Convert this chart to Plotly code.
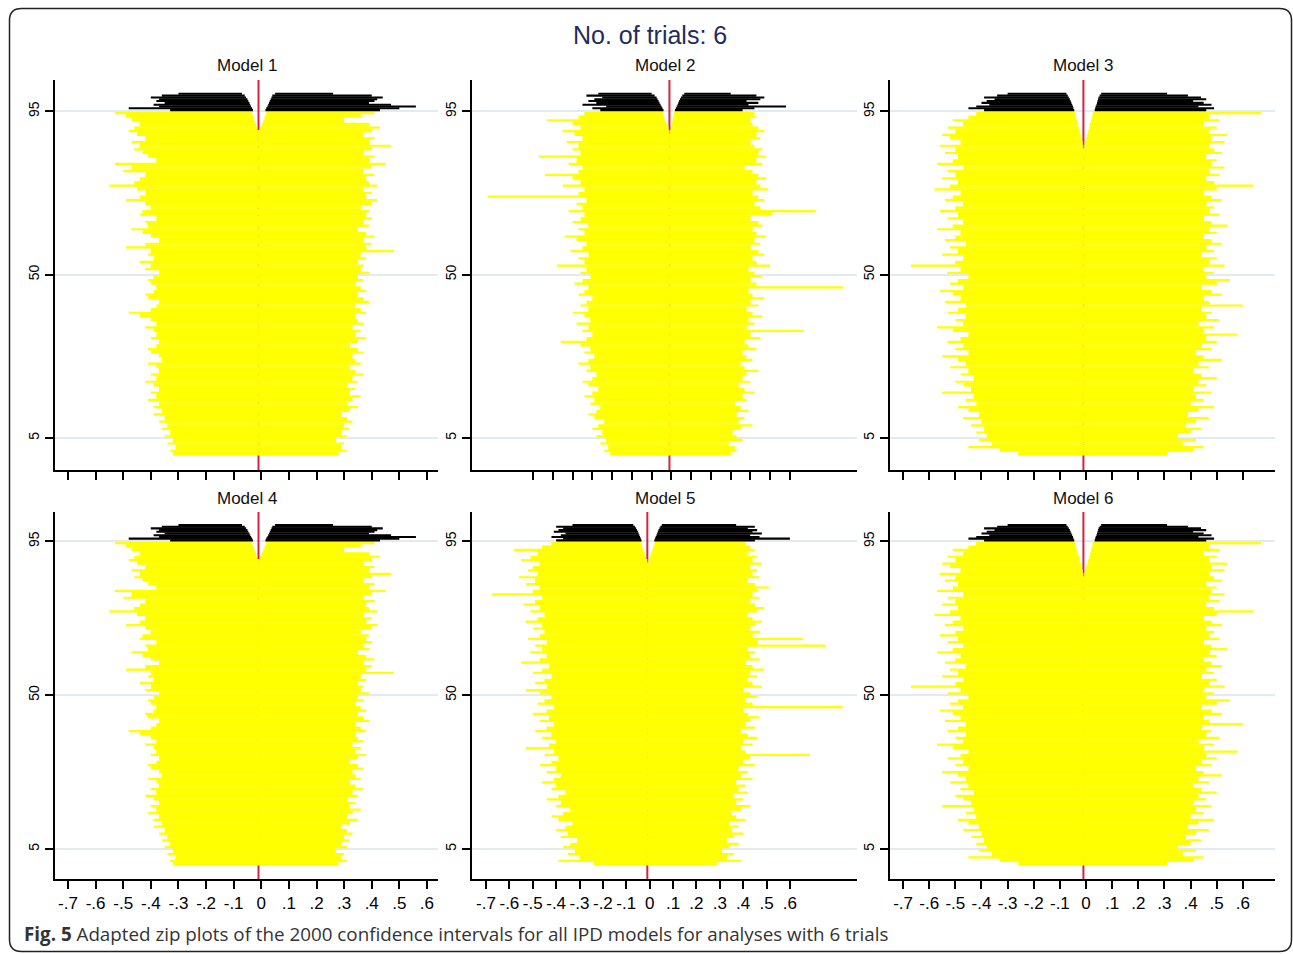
import plotly.graph_objects as go

W, H = 1293, 954
TRUE_EFFECT = -0.01

X_TICKS = [-0.7, -0.6, -0.5, -0.4, -0.3, -0.2, -0.1, 0.0, 0.1, 0.2, 0.3, 0.4, 0.5, 0.6]
X_TICK_TEXT = ["-.7", "-.6", "-.5", "-.4", "-.3", "-.2", "-.1", "0", ".1", ".2", ".3", ".4", ".5", ".6"]
Y_TICKS = [5, 50, 95]
Y_TICK_TEXT = ["5", "50", "95"]

# ---- covering intervals (yellow), one row per centile band 0..94 (bottom -> top)
model1_lo = [-0.32, -0.33, -0.31, -0.34, -0.32, -0.35, -0.33, -0.36, -0.34, -0.37,
             -0.35, -0.39, -0.36, -0.39, -0.37, -0.41, -0.38, -0.40, -0.37, -0.39,
             -0.42, -0.38, -0.40, -0.37, -0.38, -0.41, -0.36, -0.37, -0.40, -0.41,
             -0.38, -0.37, -0.40, -0.38, -0.39, -0.42, -0.38, -0.40, -0.44, -0.48,
             -0.40, -0.38, -0.37, -0.41, -0.42, -0.39, -0.38, -0.40, -0.41, -0.39,
             -0.37, -0.42, -0.40, -0.44, -0.39, -0.41, -0.40, -0.49, -0.42, -0.37,
             -0.40, -0.43, -0.47, -0.41, -0.42, -0.38, -0.44, -0.43, -0.40, -0.42,
             -0.49, -0.44, -0.42, -0.45, -0.55, -0.46, -0.44, -0.42, -0.50, -0.47,
             -0.53, -0.38, -0.41, -0.43, -0.46, -0.44, -0.47, -0.42, -0.45, -0.48,
             -0.46, -0.44, -0.47, -0.49, -0.53]
model1_hi = [0.28, 0.31, 0.29, 0.30, 0.27, 0.31, 0.29, 0.32, 0.30, 0.33,
             0.31, 0.29, 0.32, 0.35, 0.31, 0.33, 0.36, 0.32, 0.34, 0.31,
             0.35, 0.33, 0.37, 0.34, 0.32, 0.36, 0.34, 0.33, 0.37, 0.35,
             0.32, 0.35, 0.38, 0.34, 0.36, 0.33, 0.37, 0.35, 0.34, 0.38,
             0.36, 0.34, 0.39, 0.37, 0.35, 0.38, 0.36, 0.34, 0.37, 0.35,
             0.39, 0.36, 0.37, 0.35, 0.38, 0.36, 0.48, 0.38, 0.40, 0.37,
             0.41, 0.38, 0.35, 0.39, 0.37, 0.40, 0.38, 0.39, 0.36, 0.40,
             0.42, 0.38, 0.40, 0.37, 0.42, 0.39, 0.38, 0.41, 0.37, 0.40,
             0.45, 0.39, 0.41, 0.37, 0.40, 0.47, 0.39, 0.41, 0.37, 0.40,
             0.43, 0.39, 0.30, 0.36, 0.41]
model1_notch_l = [-0.010, -0.015, -0.019, -0.024, -0.028, -0.033]   # rows 89..94
model1_notch_r = [-0.010, -0.004, 0.001, 0.007, 0.012, 0.018]
model1_notch_start = 89

model2_lo = [-0.31, -0.34, -0.32, -0.36, -0.33, -0.38, -0.35, -0.40, -0.37, -0.34,
             -0.39, -0.42, -0.38, -0.36, -0.41, -0.39, -0.44, -0.40, -0.37, -0.42,
             -0.45, -0.40, -0.38, -0.43, -0.41, -0.47, -0.42, -0.39, -0.44, -0.41,
             -0.46, -0.56, -0.43, -0.40, -0.45, -0.42, -0.48, -0.41, -0.44, -0.50,
             -0.42, -0.46, -0.43, -0.40, -0.47, -0.44, -0.42, -0.49, -0.45, -0.41,
             -0.46, -0.43, -0.58, -0.44, -0.47, -0.42, -0.51, -0.45, -0.43, -0.48,
             -0.54, -0.44, -0.47, -0.42, -0.50, -0.46, -0.44, -0.52, -0.45, -0.48,
             -0.43, -0.93, -0.47, -0.44, -0.55, -0.46, -0.50, -0.64, -0.47, -0.45,
             -0.52, -0.48, -0.67, -0.46, -0.50, -0.47, -0.53, -0.45, -0.49, -0.55,
             -0.46, -0.50, -0.63, -0.47, -0.44]
model2_hi = [0.30, 0.33, 0.32, 0.29, 0.36, 0.33, 0.31, 0.35, 0.41, 0.34,
             0.37, 0.33, 0.39, 0.35, 0.32, 0.38, 0.36, 0.42, 0.37, 0.34,
             0.40, 0.36, 0.38, 0.44, 0.37, 0.35, 0.41, 0.38, 0.36, 0.43,
             0.39, 0.37, 0.45, 0.40, 0.67, 0.38, 0.42, 0.39, 0.46, 0.41,
             0.38, 0.44, 0.40, 0.47, 0.41, 0.39, 0.87, 0.43, 0.40, 0.46,
             0.42, 0.39, 0.50, 0.43, 0.41, 0.47, 0.44, 0.40, 0.45, 0.42,
             0.48, 0.43, 0.41, 0.46, 0.44, 0.40, 0.51, 0.73, 0.45, 0.42,
             0.47, 0.44, 0.41, 0.49, 0.45, 0.43, 0.48, 0.44, 0.41, 0.37,
             0.46, 0.43, 0.48, 0.44, 0.46, 0.42, 0.40, 0.45, 0.43, 0.47,
             0.44, 0.41, 0.40, 0.43, 0.42]
model2_notch_l = [-0.009, -0.015, -0.022, -0.029, -0.036, -0.043]
model2_notch_r = [-0.006, -0.002, 0.002, 0.005, 0.009, 0.013]
model2_notch_start = 89

model3_lo = [-0.26, -0.33, -0.45, -0.36, -0.41, -0.38, -0.42, -0.39, -0.44, -0.40,
             -0.47, -0.41, -0.45, -0.49, -0.42, -0.46, -0.43, -0.55, -0.44, -0.47,
             -0.50, -0.43, -0.48, -0.45, -0.52, -0.46, -0.49, -0.55, -0.45, -0.50,
             -0.47, -0.53, -0.48, -0.45, -0.51, -0.57, -0.47, -0.50, -0.46, -0.53,
             -0.49, -0.46, -0.54, -0.48, -0.51, -0.56, -0.47, -0.52, -0.49, -0.45,
             -0.53, -0.48, -0.67, -0.50, -0.47, -0.55, -0.49, -0.52, -0.46, -0.54,
             -0.50, -0.48, -0.57, -0.51, -0.47, -0.53, -0.49, -0.56, -0.50, -0.47,
             -0.54, -0.51, -0.48, -0.58, -0.52, -0.49, -0.55, -0.50, -0.53, -0.47,
             -0.57, -0.51, -0.49, -0.54, -0.50, -0.56, -0.48, -0.52, -0.55, -0.50,
             -0.53, -0.47, -0.51, -0.45, -0.42]
model3_hi = [0.31, 0.41, 0.45, 0.37, 0.42, 0.35, 0.40, 0.44, 0.38, 0.42,
             0.47, 0.39, 0.43, 0.49, 0.40, 0.45, 0.42, 0.48, 0.41, 0.46,
             0.43, 0.50, 0.44, 0.41, 0.47, 0.43, 0.52, 0.45, 0.42, 0.48,
             0.44, 0.50, 0.46, 0.58, 0.45, 0.49, 0.43, 0.51, 0.46, 0.48,
             0.44, 0.60, 0.47, 0.45, 0.52, 0.48, 0.44, 0.50, 0.55, 0.46,
             0.49, 0.45, 0.53, 0.47, 0.50, 0.44, 0.49, 0.46, 0.52, 0.48,
             0.45, 0.50, 0.47, 0.54, 0.48, 0.45, 0.51, 0.47, 0.49, 0.46,
             0.52, 0.48, 0.45, 0.50, 0.64, 0.49, 0.46, 0.51, 0.47, 0.53,
             0.48, 0.50, 0.46, 0.52, 0.49, 0.47, 0.53, 0.48, 0.54, 0.47,
             0.50, 0.45, 0.51, 0.47, 0.67]
model3_notch_l = [-0.010, -0.013, -0.017, -0.020, -0.024, -0.027, -0.031, -0.034, -0.038, -0.041]  # rows 85..94
model3_notch_r = [-0.006, -0.002, 0.001, 0.005, 0.008, 0.012, 0.015, 0.019, 0.022, 0.026]
model3_notch_start = 85

model5_lo = [-0.24, -0.39, -0.30, -0.35, -0.32, -0.37, -0.34, -0.31, -0.38, -0.35,
             -0.40, -0.36, -0.33, -0.39, -0.42, -0.37, -0.34, -0.40, -0.38, -0.44,
             -0.39, -0.36, -0.42, -0.40, -0.46, -0.41, -0.38, -0.44, -0.40, -0.47,
             -0.42, -0.39, -0.45, -0.41, -0.53, -0.43, -0.40, -0.46, -0.42, -0.49,
             -0.44, -0.41, -0.47, -0.43, -0.50, -0.44, -0.41, -0.48, -0.45, -0.42,
             -0.47, -0.53, -0.44, -0.49, -0.45, -0.42, -0.50, -0.46, -0.43, -0.55,
             -0.47, -0.44, -0.51, -0.46, -0.49, -0.44, -0.52, -0.47, -0.45, -0.50,
             -0.46, -0.53, -0.48, -0.45, -0.51, -0.47, -0.54, -0.49, -0.46, -0.675,
             -0.50, -0.47, -0.53, -0.49, -0.56, -0.48, -0.52, -0.50, -0.47, -0.55,
             -0.51, -0.48, -0.58, -0.46, -0.42]
model5_hi = [0.29, 0.39, 0.33, 0.36, 0.31, 0.34, 0.38, 0.33, 0.36, 0.40,
             0.35, 0.38, 0.34, 0.41, 0.37, 0.35, 0.39, 0.43, 0.37, 0.40,
             0.36, 0.42, 0.38, 0.41, 0.37, 0.44, 0.39, 0.42, 0.38, 0.45,
             0.40, 0.43, 0.686, 0.41, 0.39, 0.44, 0.40, 0.46, 0.42, 0.39,
             0.45, 0.41, 0.43, 0.47, 0.42, 0.40, 0.826, 0.44, 0.41, 0.46,
             0.43, 0.40, 0.48, 0.44, 0.42, 0.46, 0.43, 0.49, 0.44, 0.41,
             0.47, 0.43, 0.45, 0.42, 0.754, 0.46, 0.656, 0.44, 0.47, 0.43,
             0.45, 0.48, 0.44, 0.42, 0.46, 0.49, 0.45, 0.43, 0.47, 0.44,
             0.46, 0.51, 0.45, 0.42, 0.47, 0.44, 0.46, 0.43, 0.48, 0.44,
             0.46, 0.42, 0.45, 0.43, 0.41]
model5_notch_l = [-0.010, -0.016, -0.021, -0.026, -0.031, -0.036]
model5_notch_r = [-0.004, 0.001, 0.006, 0.011, 0.016, 0.021]
model5_notch_start = 89

# ---- non-covering intervals (black), centile bands 95..100
BLACK_RANKS = [95.3, 95.8, 96.3, 96.8, 97.3, 97.8, 98.3, 98.8, 99.3, 99.8]
model1_blk_lo = [-0.33, -0.48, -0.37, -0.39, -0.35, -0.38, -0.37, -0.40, -0.36, -0.30]
model1_blk_li = [-0.030, -0.033, -0.037, -0.040, -0.043, -0.047, -0.050, -0.055, -0.060, -0.070]
model1_blk_ri = [0.015, 0.018, 0.022, 0.025, 0.028, 0.031, 0.034, 0.037, 0.040, 0.050]
model1_blk_hi = [0.43, 0.50, 0.56, 0.47, 0.39, 0.41, 0.42, 0.44, 0.40, 0.26]

model2_blk_lo = [-0.36, -0.40, -0.33, -0.45, -0.38, -0.42, -0.39, -0.35, -0.43, -0.37]
model2_blk_li = [-0.040, -0.045, -0.050, -0.055, -0.060, -0.065, -0.070, -0.075, -0.085, -0.100]
model2_blk_ri = [0.018, 0.022, 0.027, 0.031, 0.035, 0.039, 0.043, 0.048, 0.055, 0.065]
model2_blk_hi = [0.36, 0.42, 0.58, 0.39, 0.44, 0.38, 0.45, 0.47, 0.43, 0.30]

model3_blk_lo = [-0.39, -0.45, -0.42, -0.37, -0.40, -0.38, -0.35, -0.39, -0.34, -0.30]
model3_blk_li = [-0.045, -0.048, -0.050, -0.053, -0.056, -0.059, -0.062, -0.066, -0.070, -0.075]
model3_blk_ri = [0.033, 0.035, 0.037, 0.040, 0.042, 0.044, 0.046, 0.048, 0.052, 0.058]
model3_blk_hi = [0.46, 0.49, 0.43, 0.48, 0.45, 0.41, 0.46, 0.44, 0.39, 0.31]

model5_blk_lo = [-0.40, -0.37, -0.42, -0.38, -0.36, -0.41, -0.39, -0.37, -0.40, -0.33]
model5_blk_li = [-0.035, -0.038, -0.041, -0.044, -0.047, -0.050, -0.054, -0.058, -0.063, -0.070]
model5_blk_ri = [0.020, 0.023, 0.026, 0.029, 0.032, 0.035, 0.038, 0.042, 0.046, 0.052]
model5_blk_hi = [0.45, 0.60, 0.47, 0.43, 0.48, 0.44, 0.46, 0.42, 0.45, 0.37]

# Models 4 and 6 read identical to models 1 and 3 in the figure
model4_lo, model4_hi = list(model1_lo), list(model1_hi)
model4_notch_l, model4_notch_r, model4_notch_start = model1_notch_l, model1_notch_r, model1_notch_start
model4_blk_lo, model4_blk_li, model4_blk_ri, model4_blk_hi = model1_blk_lo, model1_blk_li, model1_blk_ri, model1_blk_hi
model6_lo, model6_hi = list(model3_lo), list(model3_hi)
model6_notch_l, model6_notch_r, model6_notch_start = model3_notch_l, model3_notch_r, model3_notch_start
model6_blk_lo, model6_blk_li, model6_blk_ri, model6_blk_hi = model3_blk_lo, model3_blk_li, model3_blk_ri, model3_blk_hi

MODELS = [
    dict(name="Model 1", lo=model1_lo, hi=model1_hi, nl=model1_notch_l, nr=model1_notch_r, ns=model1_notch_start,
         blo=model1_blk_lo, bli=model1_blk_li, bri=model1_blk_ri, bhi=model1_blk_hi),
    dict(name="Model 2", lo=model2_lo, hi=model2_hi, nl=model2_notch_l, nr=model2_notch_r, ns=model2_notch_start,
         blo=model2_blk_lo, bli=model2_blk_li, bri=model2_blk_ri, bhi=model2_blk_hi),
    dict(name="Model 3", lo=model3_lo, hi=model3_hi, nl=model3_notch_l, nr=model3_notch_r, ns=model3_notch_start,
         blo=model3_blk_lo, bli=model3_blk_li, bri=model3_blk_ri, bhi=model3_blk_hi),
    dict(name="Model 4", lo=model4_lo, hi=model4_hi, nl=model4_notch_l, nr=model4_notch_r, ns=model4_notch_start,
         blo=model4_blk_lo, bli=model4_blk_li, bri=model4_blk_ri, bhi=model4_blk_hi),
    dict(name="Model 5", lo=model5_lo, hi=model5_hi, nl=model5_notch_l, nr=model5_notch_r, ns=model5_notch_start,
         blo=model5_blk_lo, bli=model5_blk_li, bri=model5_blk_ri, bhi=model5_blk_hi),
    dict(name="Model 6", lo=model6_lo, hi=model6_hi, nl=model6_notch_l, nr=model6_notch_r, ns=model6_notch_start,
         blo=model6_blk_lo, bli=model6_blk_li, bri=model6_blk_ri, bhi=model6_blk_hi),
]

# ---- layout geometry (pixels)
PANEL_X = [(55, 438), (472, 857), (890, 1275)]
PANEL_Y = [(80, 470), (512, 879)]
X_RANGES = [[-0.747, 0.640], [-1.009, 0.939], [-0.750, 0.723],
            [-0.747, 0.640], [-0.760, 0.887], [-0.750, 0.723]]
Y_RANGE = [-3.8, 103.6]


def px(x):
    return x / W


def py(y):
    return 1 - y / H


def row_intervals(lo, hi, li=None, ri=None):
    if li is None or li >= ri:
        return [(lo, hi)]
    return [(lo, li), (ri, hi)]


def intersect(a, b):
    out = []
    for a0, a1 in a:
        for b0, b1 in b:
            l, h = max(a0, b0), min(a1, b1)
            if h > l:
                out.append((l, h))
    return out


def add_segs(xs, ys, ivs, y):
    for l, h in ivs:
        xs += [l, h, None]
        ys += [y, y, None]


fig = go.Figure()
annotations = []

for k, m in enumerate(MODELS):
    ax = "" if k == 0 else str(k + 1)
    xref, yref = "x" + ax, "y" + ax
    col, row = k % 3, k // 3
    x0, x1 = PANEL_X[col]
    y0, y1 = PANEL_Y[row]

    # red reference line at the true value (drawn first, underneath)
    fig.add_trace(go.Scatter(x=[TRUE_EFFECT, TRUE_EFFECT], y=Y_RANGE, mode="lines",
                             line=dict(color="#d0263f", width=2), hoverinfo="skip",
                             showlegend=False, xaxis=xref, yaxis=yref))

    rows = []
    for i in range(len(m["lo"])):
        if i >= m["ns"]:
            j = i - m["ns"]
            rows.append(row_intervals(m["lo"][i], m["hi"][i], m["nl"][j], m["nr"][j]))
        else:
            rows.append(row_intervals(m["lo"][i], m["hi"][i]))
    xs, ys = [], []
    for i, ivs in enumerate(rows):
        add_segs(xs, ys, ivs, i + 0.5)
    for i in range(len(rows) - 1):
        add_segs(xs, ys, intersect(rows[i], rows[i + 1]), i + 1.0)
    fig.add_trace(go.Scatter(x=xs, y=ys, mode="lines", line=dict(color="#ffff00", width=2.2),
                             hoverinfo="skip", showlegend=False, connectgaps=False,
                             xaxis=xref, yaxis=yref))

    bx, by = [], []
    for r, l, li, ri, h in zip(BLACK_RANKS, m["blo"], m["bli"], m["bri"], m["bhi"]):
        add_segs(bx, by, [(l, li), (ri, h)], r)
    fig.add_trace(go.Scatter(x=bx, y=by, mode="lines", line=dict(color="#000000", width=2.1),
                             hoverinfo="skip", showlegend=False, connectgaps=False,
                             xaxis=xref, yaxis=yref))

    fig.layout["xaxis" + ax] = dict(
        domain=[px(x0), px(x1)], range=X_RANGES[k], anchor=yref,
        tickmode="array", tickvals=X_TICKS, ticktext=X_TICK_TEXT,
        showticklabels=(row == 1), ticks="outside", ticklen=8, tickwidth=1.6, tickcolor="black",
        showline=True, linecolor="black", linewidth=2, showgrid=False, zeroline=False,
        tickfont=dict(family="Liberation Sans, Arial", size=17, color="black"), fixedrange=True)
    fig.layout["yaxis" + ax] = dict(
        domain=[py(y1), py(y0)], range=Y_RANGE, anchor=xref,
        tickmode="array", tickvals=Y_TICKS, ticktext=Y_TICK_TEXT, tickangle=-90,
        ticks="outside", ticklen=8, tickwidth=1.6, tickcolor="black",
        showline=True, linecolor="black", linewidth=2,
        showgrid=True, gridcolor="#e3ebef", gridwidth=1.5, zeroline=False,
        tickfont=dict(family="Liberation Sans, Arial", size=14, color="black"), fixedrange=True)

    annotations.append(dict(text=m["name"], x=px((x0 + x1) / 2), y=py(y0 - 14),
                            xref="paper", yref="paper", xanchor="center", yanchor="middle",
                            showarrow=False,
                            font=dict(family="Liberation Sans, Arial", size=17, color="#111111")))

annotations.append(dict(text="No. of trials: 6", x=px(650), y=py(35), xref="paper", yref="paper",
                        xanchor="center", yanchor="middle", showarrow=False,
                        font=dict(family="Liberation Sans, Arial", size=25, color="#1f2d5c")))
annotations.append(dict(text="<b>Fig. 5</b> Adapted zip plots of the 2000 confidence intervals for all IPD models for analyses with 6 trials",
                        x=px(22), y=py(934), xref="paper", yref="paper",
                        xanchor="left", yanchor="middle", showarrow=False,
                        font=dict(family="Open Sans", size=18.8, color="#333333")))

# rounded figure border
r = 12
L, T, R, B = 9.5, 8.5, 1291.5, 951.5
path = (f"M {px(L + r)},{py(T)} L {px(R - r)},{py(T)} Q {px(R)},{py(T)} {px(R)},{py(T + r)} "
        f"L {px(R)},{py(B - r)} Q {px(R)},{py(B)} {px(R - r)},{py(B)} "
        f"L {px(L + r)},{py(B)} Q {px(L)},{py(B)} {px(L)},{py(B - r)} "
        f"L {px(L)},{py(T + r)} Q {px(L)},{py(T)} {px(L + r)},{py(T)} Z")

fig.update_layout(
    width=W, height=H, autosize=False,
    margin=dict(l=0, r=0, t=0, b=0),
    paper_bgcolor="white", plot_bgcolor="white",
    font=dict(family="Liberation Sans, Arial", color="black"),
    showlegend=False,
    annotations=annotations,
    shapes=[dict(type="path", path=path, xref="paper", yref="paper",
                 line=dict(color="#222222", width=1.5), fillcolor="rgba(0,0,0,0)")],
)

fig.write_html("out.html")
